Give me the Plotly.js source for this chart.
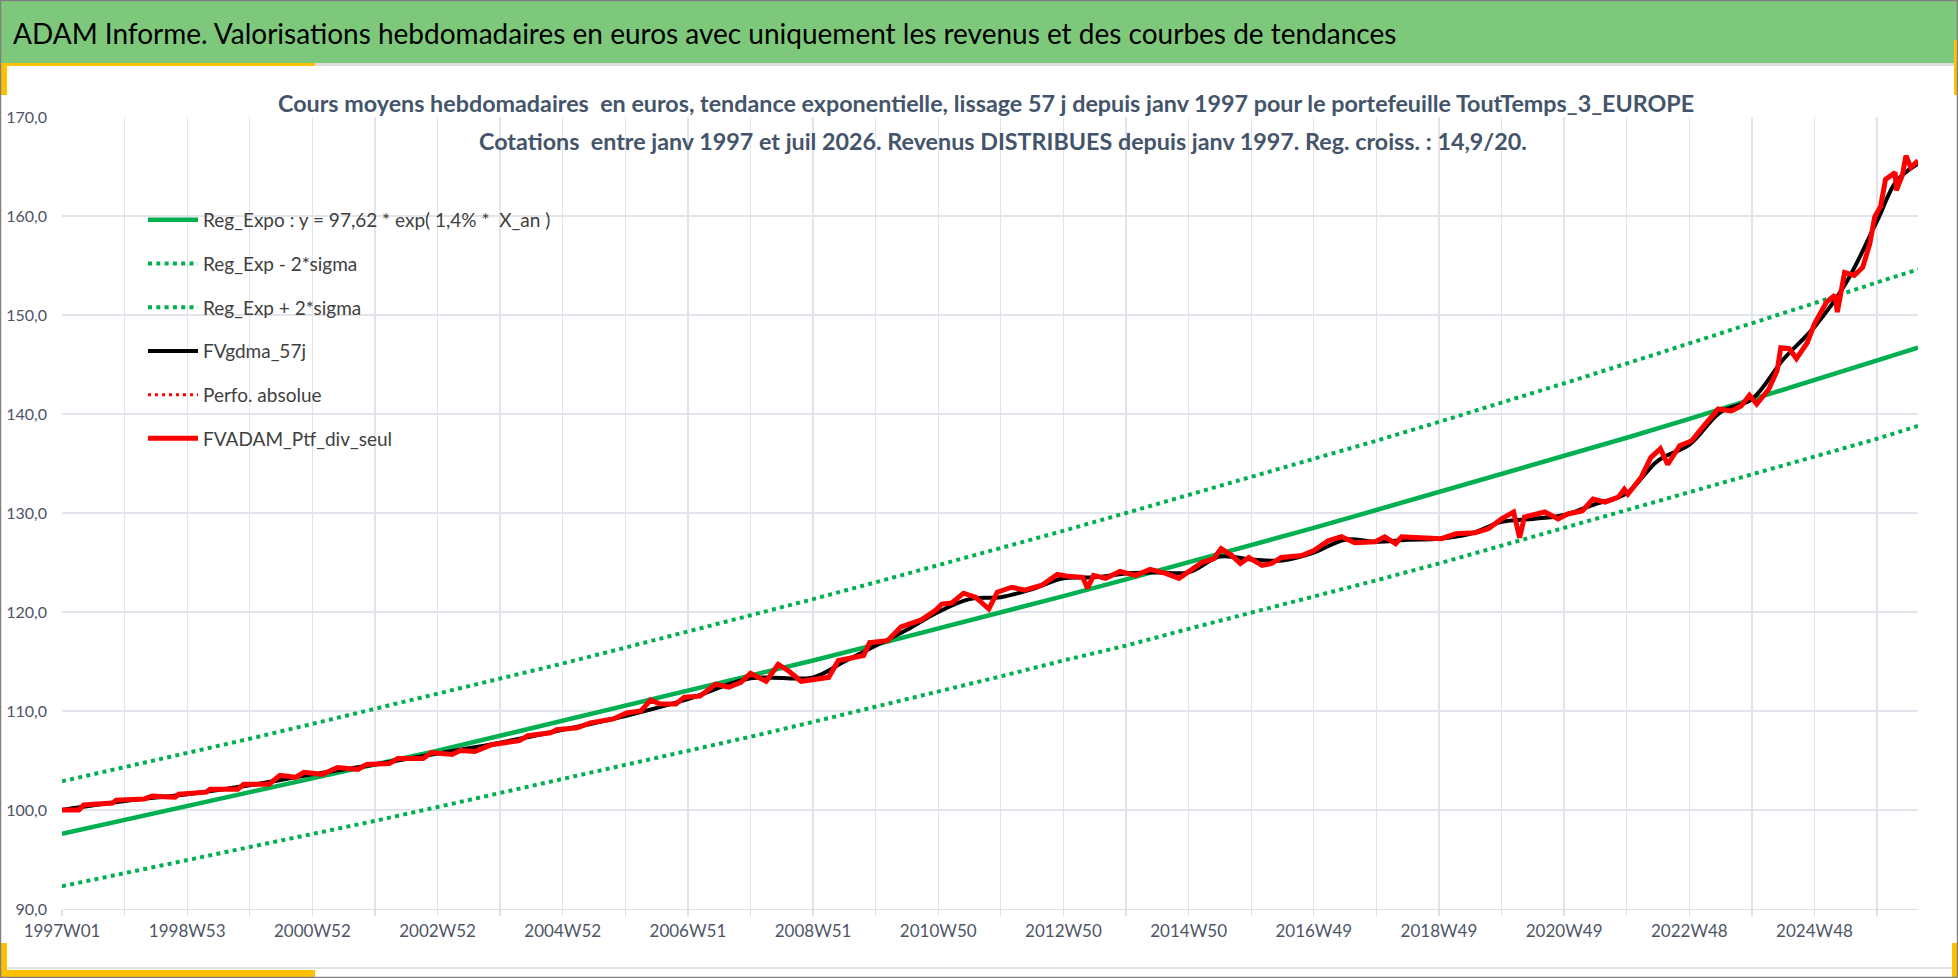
<!DOCTYPE html>
<html>
<head>
<meta charset="utf-8">
<script src="https://cdn.plot.ly/plotly-3.0.1.min.js"></script>
<style>
  html, body { margin: 0; padding: 0; background: #ffffff; }
  #chart { width: 1958px; height: 978px; }
</style>
</head>
<body>
<div id="chart"></div>
<script>
// week index (0 = 1997W01), one gridline per 52 weeks
var tickWeeks = [0, 52, 104, 156, 208, 260, 312, 364, 416, 468, 520, 572, 624, 676, 728, 780,
                 832, 884, 936, 988, 1040, 1092, 1144, 1196, 1248, 1300, 1352, 1404, 1456, 1508];
var tickLabels = ['1997W01', '', '1998W53', '', '2000W52', '', '2002W52', '', '2004W52', '', '2006W51', '',
                  '2008W51', '', '2010W50', '', '2012W50', '', '2014W50', '', '2016W49', '', '2018W49', '',
                  '2020W49', '', '2022W48', '', '2024W48', ''];

// trend curves, read at each yearly gridline
var trendWeeks = [0, 52, 104, 156, 208, 260, 312, 364, 416, 468, 520, 572, 624, 676, 728, 780,
                  832, 884, 936, 988, 1040, 1092, 1144, 1196, 1248, 1300, 1352, 1404, 1456, 1508, 1542];
var regExpo = [97.6, 99.0, 100.3, 101.7, 103.1, 104.6, 106.0, 107.5, 109.0, 110.5, 112.0, 113.5, 115.1, 116.7, 118.3, 120.0,
               121.6, 123.3, 125.0, 126.7, 128.5, 130.3, 132.1, 133.9, 135.7, 137.6, 139.5, 141.5, 143.4, 145.4, 146.7];
var regMinus = [92.3, 93.6, 94.9, 96.2, 97.6, 98.9, 100.3, 101.7, 103.1, 104.5, 106.0, 107.4, 108.9, 110.4, 111.9, 113.5,
                115.1, 116.6, 118.3, 119.9, 121.6, 123.2, 124.9, 126.7, 128.4, 130.2, 132.0, 133.9, 135.7, 137.5, 138.8];
var regPlus = [102.9, 104.3, 105.8, 107.2, 108.7, 110.2, 111.7, 113.3, 114.8, 116.4, 118.0, 119.7, 121.3, 123.0, 124.7, 126.4,
               128.2, 130.0, 131.8, 133.6, 135.4, 137.3, 139.2, 141.1, 143.1, 145.1, 147.1, 149.1, 151.2, 153.3, 154.6];

// smoothed series FVgdma_57j
var gdmaWeeks = [0, 52, 104, 156, 208, 260, 312, 364, 416, 468, 520, 572, 624, 650, 676, 702, 728, 754, 780, 806,
                 832, 858, 884, 910, 936, 962, 988, 1014, 1040, 1066, 1092, 1118, 1144, 1170, 1196, 1222, 1248, 1274,
                 1300, 1326, 1352, 1378, 1404, 1430, 1456, 1482, 1508, 1524, 1542];
var gdmaVal = [100.0, 100.9, 101.6, 102.5, 103.6, 104.6, 105.7, 106.8, 108.1, 109.5, 111.2, 113.3, 113.4, 115.0, 116.6, 118.2,
               120.0, 121.3, 121.5, 122.3, 123.4, 123.5, 123.9, 124.0, 124.0, 125.6, 125.3, 125.2, 126.0, 127.3, 127.1,
               127.3, 127.4, 127.9, 129.1, 129.4, 129.8, 130.9, 132.0, 135.3, 136.9, 140.2, 141.5, 145.5, 148.8, 153.2,
               159.5, 163.5, 165.3];

// weekly valuation FVADAM_Ptf_div_seul
var ptfWeeks = [0, 14, 18, 42, 45, 68, 75, 94, 97, 120, 123, 146, 151, 172, 181, 194, 201, 216, 229, 246, 253, 272, 279,
                300, 307, 324, 331, 343, 357, 380, 387, 406, 411, 428, 439, 458, 469, 481, 489, 497, 510, 517, 530, 543,
                554, 564, 572, 585, 595, 603, 614, 627, 637, 645, 666, 671, 686, 697, 714, 726, 731, 739, 749, 759, 770,
                777, 789, 800, 814, 827, 836, 848, 852, 857, 867, 879, 892, 904, 917, 928, 936, 947, 957, 963, 972, 979,
                986, 997, 1005, 1013, 1030, 1040, 1052, 1063, 1074, 1091, 1099, 1108, 1113, 1129, 1146, 1158, 1174, 1185,
                1196, 1206, 1211, 1215, 1232, 1243, 1251, 1263, 1272, 1282, 1293, 1298, 1301, 1312, 1320, 1328, 1334,
                1344, 1354, 1364, 1376, 1387, 1395, 1402, 1408, 1418, 1425, 1428, 1435, 1441, 1450, 1456, 1466, 1473,
                1475, 1481, 1489, 1496, 1502, 1506, 1511, 1515, 1523, 1524, 1529, 1532, 1536, 1542];
var ptfVal = [100.0, 100.0, 100.5, 100.7, 101.0, 101.1, 101.4, 101.3, 101.6, 101.8, 102.1, 102.1, 102.6, 102.6, 103.5,
              103.3, 103.8, 103.6, 104.3, 104.1, 104.6, 104.7, 105.2, 105.2, 105.8, 105.6, 106.0, 105.9, 106.6, 107.0,
              107.5, 107.8, 108.1, 108.3, 108.8, 109.2, 109.8, 110.0, 111.1, 110.7, 110.7, 111.4, 111.5, 112.7, 112.4,
              112.9, 113.8, 113.0, 114.7, 114.1, 113.0, 113.2, 113.4, 115.1, 115.6, 116.9, 117.1, 118.5, 119.2, 120.2,
              120.8, 120.9, 121.9, 121.5, 120.3, 122.0, 122.5, 122.2, 122.7, 123.8, 123.6, 123.5, 122.4, 123.7, 123.4,
              124.1, 123.7, 124.3, 123.9, 123.4, 124.1, 125.0, 125.4, 126.4, 125.7, 124.9, 125.5, 124.7, 124.9, 125.5,
              125.7, 126.2, 127.2, 127.6, 127.0, 127.1, 127.6, 126.9, 127.6, 127.5, 127.4, 127.9, 128.0, 128.4, 129.4,
              130.1, 127.5, 129.6, 130.1, 129.4, 129.9, 130.2, 131.4, 131.1, 131.6, 132.4, 131.9, 133.6, 135.6, 136.5,
              134.9, 136.8, 137.3, 138.8, 140.5, 140.3, 140.8, 141.9, 141.0, 142.5, 144.4, 146.7, 146.6, 145.6, 147.2,
              149.1, 151.3, 152.0, 150.3, 154.3, 154.0, 154.8, 157.2, 159.9, 161.0, 163.7, 164.4, 162.6, 164.1, 166.1,
              164.9, 165.6];

var FONT = 'Lato, "Open Sans", sans-serif';
var GREEN = '#00b050';

var traces = [
  {x: trendWeeks, y: regExpo, name: 'Reg_Expo : y = 97,62 * exp( 1,4% *  X_an )', mode: 'lines',
   line: {color: GREEN, width: 4.5}, legendgroup: 'a'},
  {x: trendWeeks, y: regMinus, name: 'Reg_Exp - 2*sigma', mode: 'lines',
   line: {color: GREEN, width: 4, dash: '4px,4.3px'}, legendgroup: 'b'},
  {x: trendWeeks, y: regPlus, name: 'Reg_Exp + 2*sigma', mode: 'lines',
   line: {color: GREEN, width: 4, dash: '4px,4.3px'}, legendgroup: 'c'},
  {x: gdmaWeeks, y: gdmaVal, name: 'FVgdma_57j', mode: 'lines',
   line: {color: '#000000', width: 4, shape: 'spline'}, legendgroup: 'd'},
  {x: [0], y: [null], name: 'Perfo. absolue', mode: 'lines',
   line: {color: '#ff0000', width: 3, dash: '3px,4px'}, legendgroup: 'e'},
  {x: ptfWeeks, y: ptfVal, name: 'FVADAM_Ptf_div_seul', mode: 'lines',
   line: {color: '#ff0000', width: 5}, legendgroup: 'f'}
];

// helpers to place decorations in paper units from pixel positions
var L = 62, R = 1918, T = 117, B = 909;
function px(X) { return (X - L) / (R - L); }
function py(Y) { return (B - Y) / (B - T); }
function box(x0, y0, x1, y1, fill) {
  return {type: 'rect', xref: 'paper', yref: 'paper', x0: px(x0), x1: px(x1), y0: py(y1), y1: py(y0),
          fillcolor: fill, line: {width: 0}, layer: 'below'};
}

var YEL = '#ffc000';
var shapes = [
  box(0, 0, 1958, 63, '#7ec87c'),
  box(0, 63, 1958, 66, '#dcdcdc'),
  box(0, 967, 1958, 969, '#e3e3e3'),
  box(0, 63, 315, 66, YEL),
  box(0, 63, 7, 95, YEL),
  box(1954, 40, 1958, 95, YEL),
  box(5, 970, 315, 977, YEL),
  box(0, 943, 7, 977, YEL),
  box(1952, 943, 1958, 977, YEL),
  {type: 'rect', xref: 'paper', yref: 'paper', x0: px(0.5), x1: px(1957.5), y0: py(977.5), y1: py(0.5),
   line: {color: '#808080', width: 1.5}, fillcolor: 'rgba(0,0,0,0)', layer: 'below'}
];

var layout = {
  width: 1958, height: 978,
  margin: {l: L, r: 1958 - R, t: T, b: 978 - B},
  paper_bgcolor: '#ffffff', plot_bgcolor: '#ffffff',
  separators: ', ',
  font: {family: FONT, color: '#404040'},
  title: {
    text: 'ADAM Informe. Valorisations hebdomadaires en euros avec uniquement les revenus et des courbes de tendances',
    xref: 'container', yref: 'container', x: 13 / 1958, xanchor: 'left', y: 1 - 34 / 978, yanchor: 'middle',
    font: {family: FONT, size: 28, color: '#000000'}
  },
  annotations: [
    {text: 'Cours moyens hebdomadaires  en euros, tendance exponentielle, lissage 57 j depuis janv 1997 pour le portefeuille ToutTemps_3_EUROPE',
     xref: 'paper', yref: 'paper', x: px(986), y: py(103), xanchor: 'center', yanchor: 'middle', showarrow: false,
     font: {family: FONT, size: 23.3, color: '#44546a', weight: 'bold'}},
    {text: 'Cotations  entre janv 1997 et juil 2026. Revenus DISTRIBUES depuis janv 1997. Reg. croiss. : 14,9/20.',
     xref: 'paper', yref: 'paper', x: px(1003), y: py(141), xanchor: 'center', yanchor: 'middle', showarrow: false,
     font: {family: FONT, size: 23.3, color: '#44546a', weight: 'bold'}}
  ],
  shapes: shapes,
  showlegend: true,
  legend: {
    x: px(143), y: py(201), xanchor: 'left', yanchor: 'top',
    bgcolor: 'rgba(0,0,0,0)', borderwidth: 0,
    font: {family: FONT, size: 19, color: '#404040'},
    itemwidth: 50, tracegroupgap: 16, traceorder: 'grouped'
  },
  xaxis: {
    range: [0, 1542], tickmode: 'array', tickvals: tickWeeks, ticktext: tickLabels,
    showgrid: true, gridcolor: '#e1e4ea', gridwidth: 1.3,
    showline: true, linecolor: '#dcdfe5', linewidth: 1.3,
    ticks: 'outside', ticklen: 6, tickcolor: '#dcdfe5', tickwidth: 1.3,
    tickangle: 0, tickfont: {family: FONT, size: 17, color: '#4d5566'},
    zeroline: false, fixedrange: true
  },
  yaxis: {
    range: [90, 170], dtick: 10, tickformat: '.1f',
    showgrid: true, gridcolor: '#e1e4ea', gridwidth: 1.3,
    showline: false, ticks: '', ticklabelstandoff: 14,
    tickfont: {family: FONT, size: 16, color: '#4d5566'},
    zeroline: false, fixedrange: true
  }
};

Plotly.newPlot('chart', traces, layout, {displayModeBar: false, staticPlot: true});
</script>
</body>
</html>
